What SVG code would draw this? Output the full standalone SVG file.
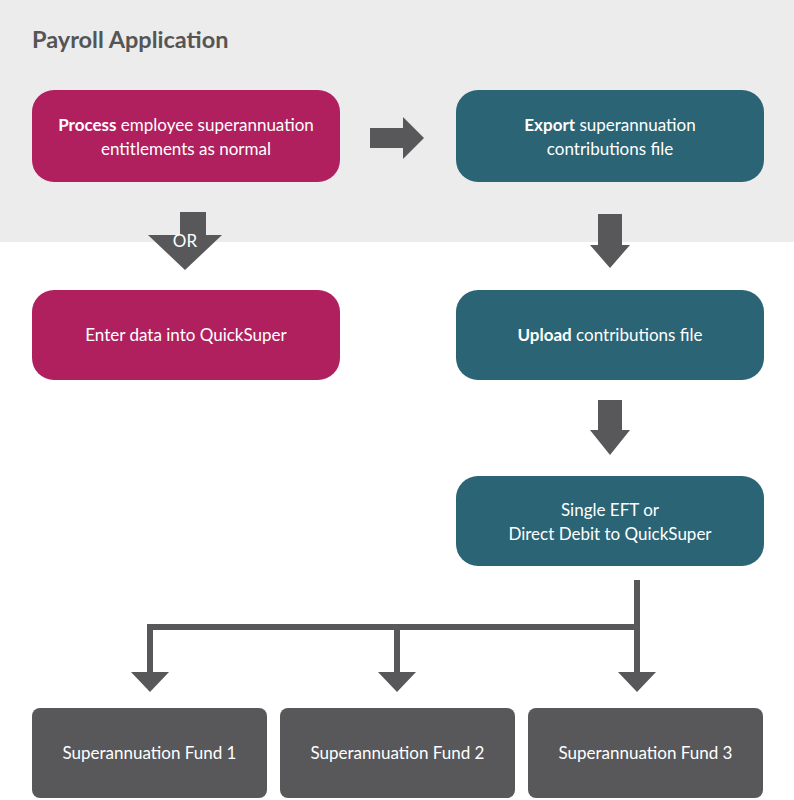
<svg xmlns="http://www.w3.org/2000/svg" width="794" height="800" viewBox="0 0 794 800">
<style>
.t{font-family:"Source Sans Pro",Lato,"Liberation Sans",sans-serif;font-size:17px;fill:#fff;text-anchor:middle}
.b{font-weight:bold}
.mag{fill:#b01f5e}.teal{fill:#2a6475}.fund{fill:#58585a}
.ar{fill:#58585a}
</style>
<rect x="0" y="0" width="794" height="242" fill="#ececec"/>
<text x="32" y="48" font-family="Lato,'Liberation Sans',sans-serif" font-size="23.5" font-weight="bold" fill="#555">Payroll Application</text>
<g id="connectors">
<polygon class="ar" points="370,128 403,128 403,117 424,138 403,159 403,148 370,148"/>
<polygon class="ar" points="180,212 206,212 206,235 222,235 185,270 148,235 180,235"/>
<text class="t" x="185" y="247" font-size="16">OR</text>
<polygon class="ar" points="598,214 622,214 622,245 630,245 610,268 590,245 598,245"/>
<polygon class="ar" points="598,400 622,400 622,430 630,430 610,455 590,430 598,430"/>
<polygon class="ar" points="634,580 640,580 640,672 656,672 637,692 618,672 634,672"/>
<rect class="ar" x="147" y="624" width="493" height="6"/>
<polygon class="ar" points="147,624 153,624 153,672 169,672 150,692 131,672 147,672"/>
<polygon class="ar" points="394,624 400,624 400,672 416,672 397,692 378,672 394,672"/>
</g>
<g id="process"><rect class="mag" x="32" y="90" width="308" height="92" rx="22"/>
<text class="t" x="186" y="131"><tspan class="b">Process</tspan> employee superannuation</text>
<text class="t" x="186" y="155">entitlements as normal</text></g>
<g id="export"><rect class="teal" x="456" y="90" width="308" height="92" rx="22"/>
<text class="t" x="610" y="131"><tspan class="b">Export</tspan> superannuation</text>
<text class="t" x="610" y="155">contributions file</text></g>
<g id="enter"><rect class="mag" x="32" y="290" width="308" height="90" rx="22"/>
<text class="t" x="186" y="341">Enter data into QuickSuper</text></g>
<g id="upload"><rect class="teal" x="456" y="290" width="308" height="90" rx="22"/>
<text class="t" x="610" y="341"><tspan class="b">Upload</tspan> contributions file</text></g>
<g id="eft"><rect class="teal" x="456" y="476" width="308" height="90" rx="22"/>
<text class="t" x="610" y="516">Single EFT or</text>
<text class="t" x="610" y="540">Direct Debit to QuickSuper</text></g>
<g id="fund1"><rect class="fund" x="32" y="708" width="235" height="90" rx="8"/>
<text class="t" x="149.5" y="759">Superannuation Fund 1</text></g>
<g id="fund2"><rect class="fund" x="280" y="708" width="235" height="90" rx="8"/>
<text class="t" x="397.5" y="759">Superannuation Fund 2</text></g>
<g id="fund3"><rect class="fund" x="528" y="708" width="235" height="90" rx="8"/>
<text class="t" x="645.5" y="759">Superannuation Fund 3</text></g>
</svg>
